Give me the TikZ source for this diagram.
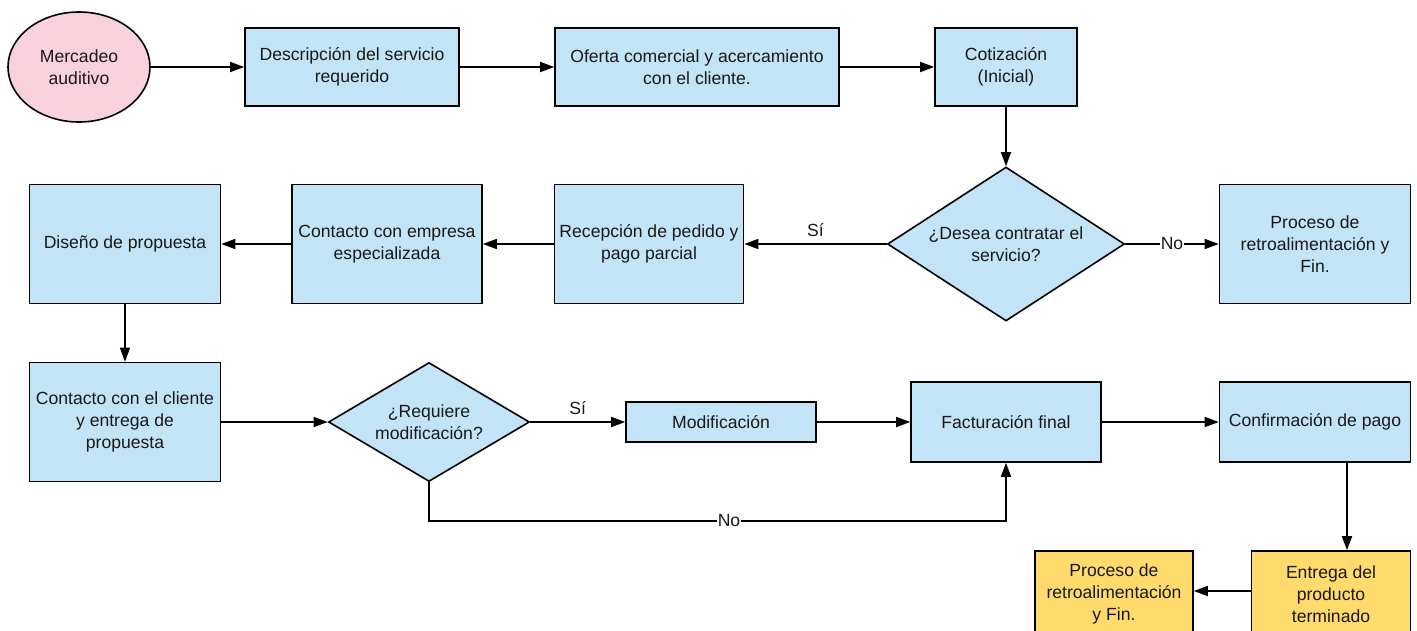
\documentclass[tikz,border=0pt]{standalone}
\usepackage{fontspec}
\setmainfont{Liberation Sans}
\usetikzlibrary{shapes.geometric,arrows.meta}
\definecolor{boxblue}{HTML}{C3E4F6}
\definecolor{boxpink}{HTML}{F9D1DD}
\definecolor{boxyellow}{HTML}{FFDB6E}
\begin{document}
\begin{tikzpicture}[x=1pt,y=-1pt,
  base/.style={draw=black, line width=1.6pt, align=center, inner sep=0pt,
    font=\fontsize{17.6}{22}\selectfont, text=black!90},
  proc/.style={base, rectangle, fill=boxblue},
  term/.style={base, rectangle, fill=boxyellow},
  dec/.style={base, diamond, fill=boxblue},
  txt/.style={align=center, inner sep=0pt, font=\fontsize{17.6}{22}\selectfont, text=black!90},
  lbl/.style={inner sep=1pt, font=\fontsize{17.6}{22}\selectfont, text=black!90},
  arr/.style={draw=black, line width=1.6pt, -{Triangle[length=14pt,width=10pt]}}
]
\useasboundingbox (0,0) rectangle (1417,630);
\clip (0,0) rectangle (1417,630);
\fill[white] (0,0) rectangle (1417,630);

\node[base, ellipse, fill=boxpink, minimum width=142, minimum height=110] (m1) at (79,67) {Mercadeo\\auditivo};
\node[proc, minimum width=214, minimum height=78] (d) at (352,67) {Descripción del servicio\\requerido};
\node[proc, minimum width=284, minimum height=78] (o) at (697,67) {Oferta comercial y acercamiento\\con el cliente.};
\node[proc, minimum width=142, minimum height=78] (c) at (1006,67) {Cotización\\(Inicial)};

\node[dec, minimum width=237, minimum height=154] (q1) at (1006,244) {};
\node[txt] (q1t) at (q1.center) {¿Desea contratar el\\servicio?};
\node[proc, minimum width=191, minimum height=119] (r1) at (1315,244) {Proceso de\\retroalimentación y\\Fin.};
\node[proc, minimum width=189, minimum height=119] (rec) at (649,244) {Recepción de pedido y\\pago parcial};
\node[proc, minimum width=190, minimum height=119] (ce) at (387,244) {Contacto con empresa\\especializada};
\node[proc, minimum width=191, minimum height=119] (dis) at (125,244) {Diseño de propuesta};

\node[proc, minimum width=191, minimum height=119] (cc) at (125,422) {Contacto con el cliente\\y entrega de\\propuesta};
\node[dec, minimum width=201, minimum height=119] (q2) at (429,422) {};
\node[txt] (q2t) at (q2.center) {¿Requiere\\modificación?};
\node[proc, minimum width=190, minimum height=40] (mod) at (721,422) {Modificación};
\node[proc, minimum width=190, minimum height=80] (fac) at (1006,422) {Facturación final};
\node[proc, minimum width=191, minimum height=80] (conf) at (1315,422) {Confirmación de pago};

\node[term, minimum width=159, minimum height=86] (ent) at (1331,594) {Entrega del\\producto\\terminado};
\node[term, minimum width=158, minimum height=86] (fin) at (1114,594) {Proceso de\\retroalimentación\\y Fin.};

\coordinate (k) at (429,521);
\coordinate (cx) at (1347,0);
\coordinate (ey) at (0,591);

\draw[arr] (m1.east) -- (d.west);
\draw[arr] (d.east) -- (o.west);
\draw[arr] (o.east) -- (c.west);
\draw[arr] (c.south) -- (q1.north);
\draw[arr] (q1.west) -- node[lbl, above=6pt] {Sí} (rec.east);
\draw[arr] (q1.east) -- node[lbl, fill=white] {No} (r1.west);
\draw[arr] (rec.west) -- (ce.east);
\draw[arr] (ce.west) -- (dis.east);
\draw[arr] (dis.south) -- (cc.north);
\draw[arr] (cc.east) -- (q2.west);
\draw[arr] (q2.east) -- node[lbl, above=6pt] {Sí} (mod.west);
\draw[arr] (mod.east) -- (fac.west);
\draw[arr] (q2.south) -- (k) -| node[lbl, fill=white, pos=0.26] {No} (fac.south);
\draw[arr] (fac.east) -- (conf.west);
\draw[arr] (conf.south -| cx) -- (ent.north -| cx);
\draw[arr] (ent.west |- ey) -- (fin.east |- ey);
\end{tikzpicture}
\end{document}
